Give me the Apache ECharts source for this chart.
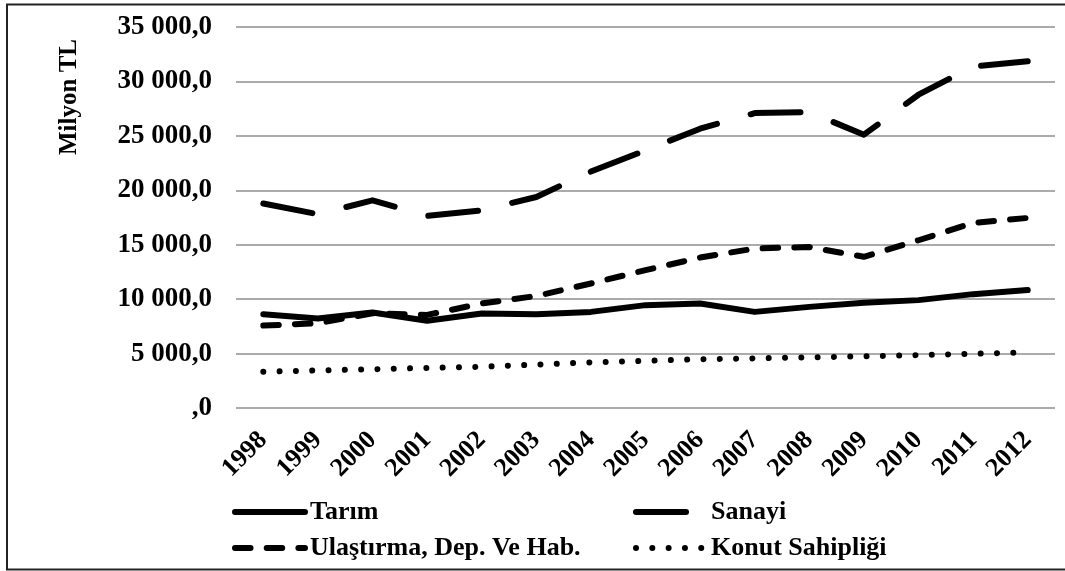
<!DOCTYPE html>
<html>
<head>
<meta charset="utf-8">
<script src="https://cdn.jsdelivr.net/npm/echarts@6/dist/echarts.min.js"></script>
<style>
html,body{margin:0;padding:0;background:#fff;}
#c{width:1065px;height:571px;}
</style>
</head>
<body>
<div id="c"></div>
<script>
const categories = ['1998','1999','2000','2001','2002','2003','2004','2005','2006','2007','2008','2009','2010','2011','2012'];
const tarim = [8620, 8230, 8780, 8010, 8690, 8620, 8830, 9450, 9600, 8830, 9290, 9660, 9910, 10460, 10830];
const sanayi = [18780, 17800, 19080, 17640, 18160, 19385, 21720, 23670, 25660, 27090, 27180, 25110, 28780, 31370, 31860];
const ulastirma = [7570, 7790, 8700, 8550, 9600, 10290, 11440, 12660, 13820, 14650, 14790, 13890, 15410, 17000, 17460];
const konut = [3330, 3450, 3560, 3680, 3790, 3990, 4190, 4330, 4480, 4560, 4650, 4750, 4860, 4980, 5110];
const yTickLabels = [',0', '5 000,0', '10 000,0', '15 000,0', '20 000,0', '25 000,0', '30 000,0', '35 000,0'];
const seriesNames = ['Tarım', 'Sanayi', 'Ulaştırma, Dep. Ve Hab.', 'Konut Sahipliği'];
const yAxisName = 'Milyon TL';

const FONT = 'Liberation Serif';
const chart = echarts.init(document.getElementById('c'), null, {renderer: 'canvas'});

function mkSeries(name, data, type) {
  return {
    name: name, type: 'line', data: data, symbol: 'none', showSymbol: false, smooth: false,
    lineStyle: {color: '#000', width: 6, type: type, cap: 'round', join: 'round'},
    itemStyle: {color: '#000'}, emphasis: {disabled: true}, animation: false
  };
}

const legendText = {fontFamily: FONT, fontWeight: 'bold', fontSize: 26, color: '#000', lineHeight: 26};
const legendCommon = {
  orient: 'vertical', top: 494, itemWidth: 70, itemHeight: 14, itemGap: 10, selectedMode: false,
  textStyle: legendText,
  itemStyle: {color: 'rgba(0,0,0,0)', borderWidth: 0, opacity: 0},
  lineStyle: {width: 6, cap: 'round'}
};

chart.setOption({
  animation: false,
  grid: {left: 236, right: 10, top: 27, bottom: 163, containLabel: false},
  xAxis: {
    type: 'category', data: categories, boundaryGap: true,
    axisLine: {show: false}, axisTick: {show: false},
    axisLabel: {rotate: 45, margin: 28, fontFamily: FONT, fontWeight: 'bold', fontSize: 26, color: '#000', interval: 0}
  },
  yAxis: {
    type: 'value', min: 0, max: 35000, interval: 5000,
    axisLine: {show: false}, axisTick: {show: false},
    splitLine: {show: true, lineStyle: {color: '#8f8f8f', width: 1.5}},
    axisLabel: {
      margin: 24, fontFamily: FONT, fontWeight: 'bold', fontSize: 27, color: '#000',
      formatter: function (v) { return yTickLabels[Math.round(v / 5000)]; }
    }
  },
  legend: [
    Object.assign({data: [seriesNames[0], seriesNames[2]], left: 227}, legendCommon),
    Object.assign({data: [seriesNames[1], seriesNames[3]], left: 628}, legendCommon)
  ],
  graphic: [
    {
      type: 'rect', silent: true,
      shape: {x: 7, y: 4.5, width: 1070, height: 565},
      style: {fill: 'none', stroke: '#222', lineWidth: 2}
    },
    {
      type: 'text', silent: true, x: 70, y: 97, rotation: Math.PI / 2,
      style: {text: yAxisName, fontFamily: FONT, fontWeight: 'bold', fontSize: 25, fill: '#000', align: 'center', verticalAlign: 'middle'}
    }
  ],
  series: [
    mkSeries(seriesNames[0], tarim, 'solid'),
    mkSeries(seriesNames[1], sanayi, [50, 35]),
    mkSeries(seriesNames[2], ulastirma, [15.5, 16.2]),
    mkSeries(seriesNames[3], konut, [0.01, 16.3])
  ]
});
</script>
</body>
</html>
